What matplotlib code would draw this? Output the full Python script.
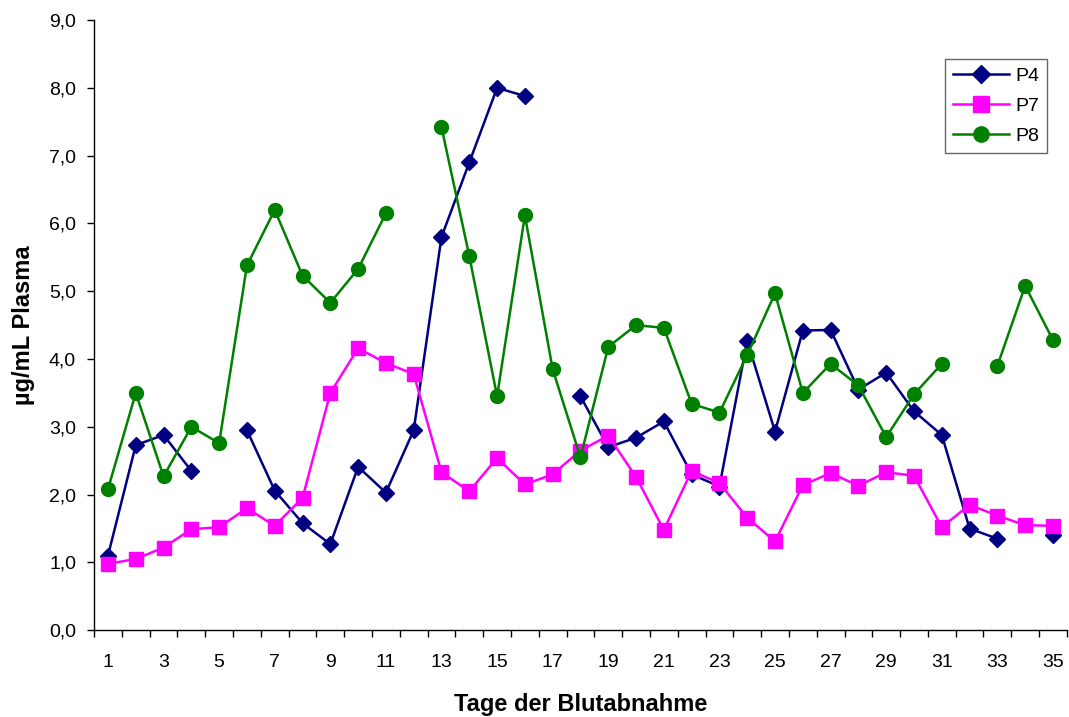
import numpy as np
import matplotlib
matplotlib.use("Agg")
import matplotlib.pyplot as plt

plt.rcParams['font.family'] = ['Liberation Sans', 'DejaVu Sans']

days = list(range(1, 36))
nan = np.nan

p4 = [1.10, 2.73, 2.88, 2.35, nan, 2.95, 2.06, 1.58, 1.27, 2.41,
      2.03, 2.95, 5.80, 6.90, 8.00, 7.88, nan, 3.45, 2.70, 2.84,
      3.08, 2.30, 2.12, 4.27, 2.93, 4.42, 4.43, 3.55, 3.80, 3.23,
      2.88, 1.50, 1.35, nan, 1.40]

p7 = [0.98, 1.05, 1.22, 1.49, 1.52, 1.80, 1.54, 1.95, 3.50, 4.16,
      3.94, 3.78, 2.33, 2.05, 2.54, 2.15, 2.30, 2.65, 2.87, 2.26,
      1.48, 2.35, 2.17, 1.66, 1.31, 2.14, 2.32, 2.13, 2.33, 2.28,
      1.52, 1.85, 1.69, 1.55, 1.54]

p8 = [2.08, 3.50, 2.27, 3.00, 2.76, 5.38, 6.20, 5.23, 4.83, 5.33,
      6.15, nan, 7.42, 5.52, 3.45, 6.12, 3.85, 2.55, 4.18, 4.50,
      4.46, 3.34, 3.21, 4.06, 4.97, 3.50, 3.93, 3.61, 2.85, 3.48,
      3.93, nan, 3.90, 5.08, 4.28]

y_ticks = np.arange(0, 9.5, 1.0)
y_labels = [f"{v:.1f}".replace(".", ",") for v in y_ticks]

fig = plt.figure(figsize=(10.69, 7.17), dpi=100)
ax = fig.add_axes([0.088, 0.121, 0.910, 0.851])

ax.plot(days, p4, color='#000080', marker='D', markersize=8.5, lw=1.8,
        label='P4')
ax.plot(days, p7, color='#FF00FF', marker='s', markersize=10, lw=1.8,
        label='P7')
ax.plot(days, p8, color='#008000', marker='o', markersize=10, lw=1.8,
        label='P8')

ax.set_xlim(0.5, 35.5)
ax.set_ylim(0, 9)
ax.set_yticks(y_ticks)
ax.set_yticklabels(y_labels, fontsize=14)

# category boundaries as tick marks, labels on odd days
ax.set_xticks(np.arange(0.5, 36, 1.0))
ax.set_xticklabels([])
ax.set_xticks(days[::2], minor=True)
ax.set_xticklabels([str(d) for d in days[::2]], minor=True, fontsize=14)
ax.tick_params(axis='x', which='major', direction='out', length=5, width=1)
ax.tick_params(axis='x', which='minor', length=0, pad=17)
ax.tick_params(axis='y', direction='out', length=5, width=1, pad=8)

for s in ['top', 'right']:
    ax.spines[s].set_visible(False)
for s in ['left', 'bottom']:
    ax.spines[s].set_color('black')
    ax.spines[s].set_linewidth(1)

ax.set_xlabel('Tage der Blutabnahme', fontsize=17, fontweight='bold',
              labelpad=16)
ax.set_ylabel('µg/mL Plasma', fontsize=17, fontweight='bold', labelpad=10)

leg = ax.legend(loc='upper right', bbox_to_anchor=(0.9795, 0.936),
                borderaxespad=0, fontsize=14, frameon=True, fancybox=False,
                edgecolor='#404040', borderpad=0.4, handlelength=2.9,
                handletextpad=0.3, labelspacing=0.65, markerscale=1.1)
leg.get_frame().set_linewidth(1)

fig.savefig('out.png', dpi=100, facecolor='white')
